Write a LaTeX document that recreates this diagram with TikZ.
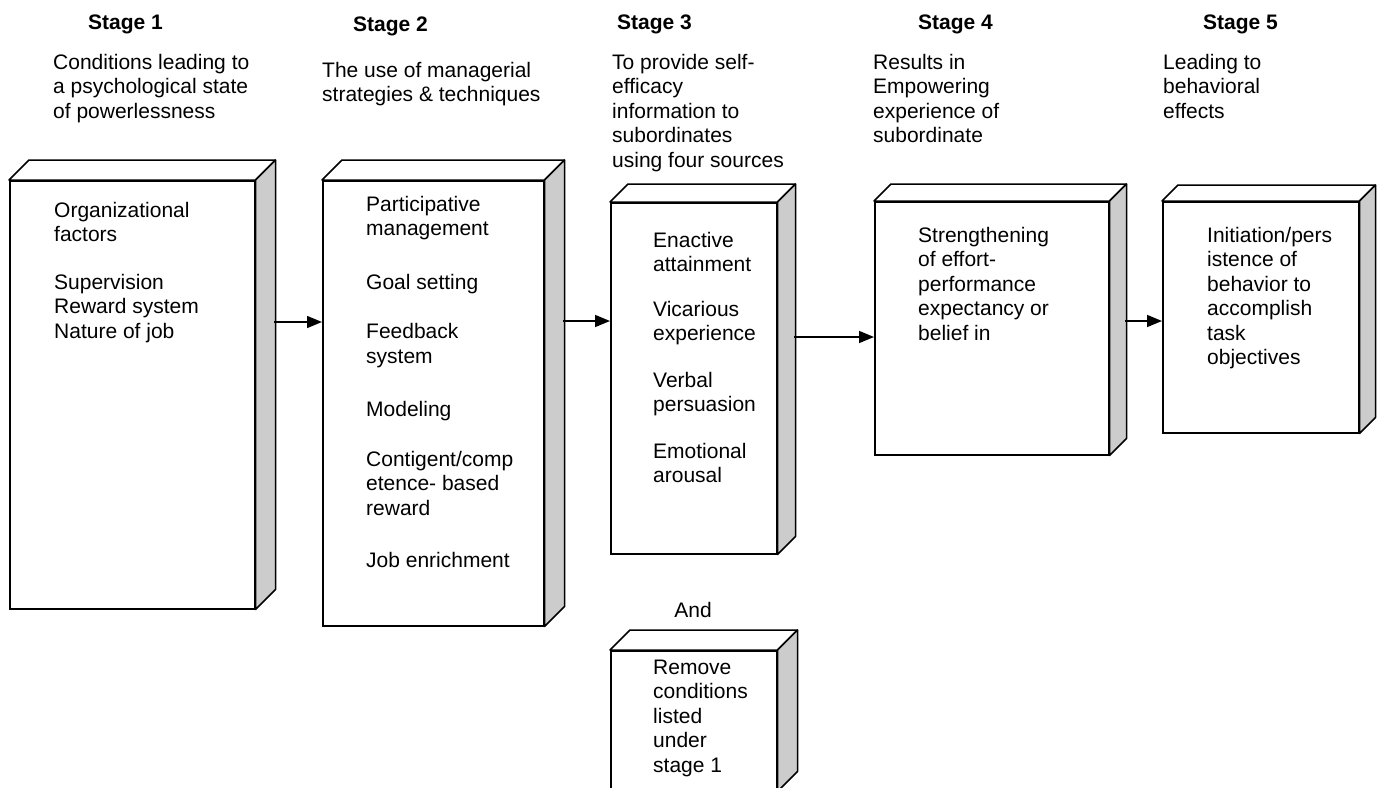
\documentclass[tikz,border=0pt]{standalone}
\usepackage{fontspec}
\setmainfont{Liberation Sans}
\usetikzlibrary{arrows.meta,calc}

\tikzset{
  front/.style={draw, line width=1.5pt, fill=white, inner sep=0pt, anchor=north west},
  sideface/.style={draw, line width=1.5pt, fill=black!20, line join=round},
  topface/.style={draw, line width=1.5pt, fill=white, line join=round},
  body/.style={anchor=north west, inner sep=0pt, align=left, font=\fontsize{21}{24.5}\selectfont},
  head/.style={anchor=base west, inner sep=0pt, font=\fontsize{21}{24.5}\selectfont\bfseries},
  conn/.style={draw, line width=1.5pt, -{Triangle[length=15pt,width=12pt]}},
}

\newcommand{\threedbox}[6]{%
  \node[front, minimum width=#4pt, minimum height=#5pt] (#1) at (#2,#3) {};
  \draw[topface] (#1.north west) -- ++(#6,-#6) -- ($(#1.north east)+(#6,-#6)$) -- (#1.north east) -- cycle;
  \draw[sideface] (#1.north east) -- ++(#6,-#6) -- ($(#1.south east)+(#6,-#6)$) -- (#1.south east) -- cycle;
}

\begin{document}
\begin{tikzpicture}[x=1pt,y=-1pt]
\useasboundingbox (0,0) rectangle (1381,787);
\clip (0,0) rectangle (1381,787);

% headings
\node[head] (h1) at (88,29) {Stage 1};
\node[head] (h2) at (353,31) {Stage 2};
\node[head] (h3) at (617,29) {Stage 3};
\node[head] (h4) at (918,29) {Stage 4};
\node[head] (h5) at (1203,29) {Stage 5};

% subtitles (first baseline - 17.15)
\node[body] (s1) at (53,52) {\strut Conditions leading to\\a psychological state\\of powerlessness};
\node[body] (s2) at (322,60) {\strut The use of managerial\\strategies \& techniques};
\node[body] (s3) at (612,52) {\strut To provide self-\\efficacy\\information to\\subordinates\\using four sources};
\node[body] (s4) at (873,52) {\strut Results in\\Empowering\\experience of\\subordinate};
\node[body] (s5) at (1163,52) {\strut Leading to\\behavioral\\effects};

% boxes
\threedbox{b1}{9}{180}{245}{428}{20}
\threedbox{b2}{322}{180}{221}{445}{20}
\threedbox{b3}{610}{202}{166}{351}{18}
\threedbox{b4}{874}{201}{234}{253}{17}
\threedbox{b5}{1162}{201}{196}{231}{16}
\threedbox{b6}{610}{650}{166}{140}{20}

% box texts
\node[body] (t1) at (54,200) {\strut Organizational\\factors\\[23pt]Supervision\\Reward system\\Nature of job};
\node[body] (t2) at (366,194) {\strut Participative\\management\\[29pt]Goal setting\\[25pt]Feedback\\system\\[29pt]Modeling\\[25pt]Contigent/comp\\etence- based\\reward\\[28pt]Job enrichment};
\node[body] (t3) at (653,230) {\strut Enactive\\attainment\\[20pt]Vicarious\\experience\\[22pt]Verbal\\persuasion\\[22pt]Emotional\\arousal};
\node[body] (t4) at (918,225) {\strut Strengthening\\of effort-\\performance\\expectancy or\\belief in};
\node[body] (t5) at (1207,225) {\strut Initiation/pers\\istence of\\behavior to\\accomplish\\task\\objectives};
\node[body] (t6) at (653,657) {\strut Remove\\conditions\\listed\\under\\stage 1};
\node[body, anchor=center] (and) at (693,610) {And};

% connectors
\coordinate (c1) at (274,322);
\coordinate (c2) at (563,321);
\coordinate (c3) at (794,337);
\coordinate (c4) at (1125,321);
\draw[conn] (c1) -- (c1 -| b2.west);
\draw[conn] (c2) -- (c2 -| b3.west);
\draw[conn] (c3) -- (c3 -| b4.west);
\draw[conn] (c4) -- (c4 -| b5.west);
\end{tikzpicture}
\end{document}
